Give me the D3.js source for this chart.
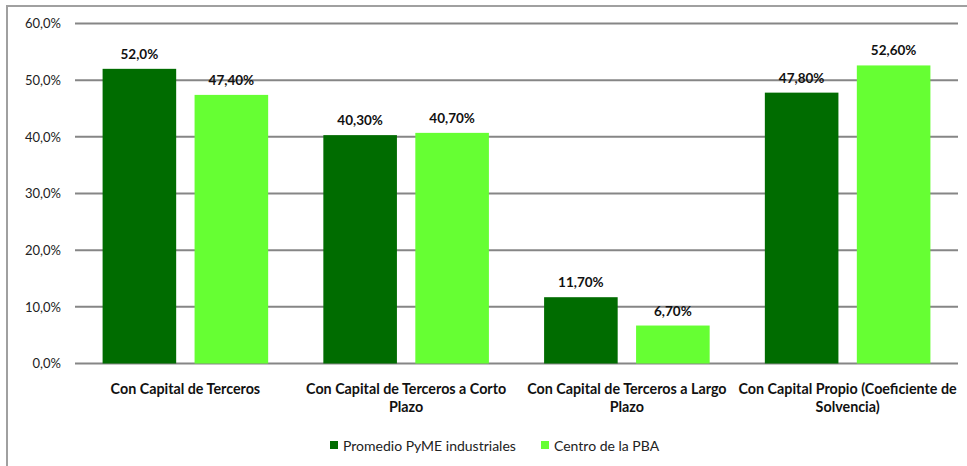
<!DOCTYPE html>
<html>
<head>
<meta charset="utf-8">
<script src="https://cdnjs.cloudflare.com/ajax/libs/d3/7.8.5/d3.min.js"></script>
<style>
  body { margin: 0; background: #fff; }
  svg { display: block; font-family: Lato, "Open Sans", sans-serif; }
</style>
</head>
<body>
<div id="chart"></div>
<script>
const categories = [
  ["Con Capital de Terceros"],
  ["Con Capital de Terceros a Corto", "Plazo"],
  ["Con Capital de Terceros a Largo", "Plazo"],
  ["Con Capital Propio (Coeficiente de", "Solvencia)"]
]
const seriesNames = ["Promedio PyME industriales", "Centro de la PBA"]
const seriesColors = ["#006c00", "#66ff33"]
const pymeValues = [52.0, 40.3, 11.7, 47.8]
const pbaValues = [47.4, 40.7, 6.7, 52.6]
const pymeLabels = ["52,0%", "40,30%", "11,70%", "47,80%"]
const pbaLabels = ["47,40%", "40,70%", "6,70%", "52,60%"]
const yTicks = [0, 10, 20, 30, 40, 50, 60]

const width = 967
const height = 466
const margin = {left: 75, right: 9, top: 23.5, bottom: 102.5}

const svg = d3.select("#chart").append("svg")
  .attr("width", width)
  .attr("height", height)

// outer chart frame (cut off at right and bottom like the source)
svg.append("rect")
  .attr("x", 7).attr("y", 6)
  .attr("width", width + 10).attr("height", height + 10)
  .attr("fill", "none")
  .attr("stroke", "#a0a0a0")
  .attr("stroke-width", 2)

const y = d3.scaleLinear()
  .domain([0, 60])
  .range([height - margin.bottom, margin.top])

const x0 = d3.scaleBand()
  .domain(d3.range(categories.length))
  .range([margin.left, width - margin.right])
  .paddingInner(0.25)
  .paddingOuter(0.125)

const x1 = d3.scaleBand()
  .domain([0, 1])
  .range([0, x0.bandwidth()])
  .paddingInner(0.2)

// gridlines
svg.append("g")
  .selectAll("line")
  .data(yTicks)
  .enter().append("line")
  .attr("x1", margin.left)
  .attr("x2", width - margin.right)
  .attr("y1", function(d) { return y(d); })
  .attr("y2", function(d) { return y(d); })
  .attr("stroke", "#868686")
  .attr("stroke-width", 2)

// y axis labels
const yAxis = svg.append("g")
  .attr("transform", "translate(" + (margin.left - 14) + ",0)")
  .call(d3.axisLeft(y).tickValues(yTicks).tickSize(0).tickPadding(0)
    .tickFormat(function(d) { return d.toFixed(1).replace(".", ",") + "%"; }))
yAxis.select(".domain").remove()
yAxis.selectAll("text")
  .attr("font-size", 13)
  .attr("font-family", "Lato, sans-serif")
  .attr("fill", "#222")

const series = [
  {values: pymeValues, labels: pymeLabels},
  {values: pbaValues, labels: pbaLabels}
]

series.forEach(function(s, si) {
  const g = svg.append("g")
  g.selectAll("rect")
    .data(s.values)
    .enter().append("rect")
    .attr("x", function(d, i) { return x0(i) + x1(si); })
    .attr("y", function(d) { return y(d); })
    .attr("width", x1.bandwidth())
    .attr("height", function(d) { return y(0) - y(d); })
    .attr("fill", seriesColors[si])

  g.selectAll("text")
    .data(s.values)
    .enter().append("text")
    .attr("x", function(d, i) { return x0(i) + x1(si) + x1.bandwidth() / 2; })
    .attr("y", function(d) { return y(d) - 10; })
    .attr("text-anchor", "middle")
    .attr("font-size", 13.5)
    .attr("font-weight", "bold")
    .attr("fill", "#111")
    .text(function(d, i) { return s.labels[i]; })
})

// category labels
const cat = svg.append("g")
  .selectAll("text")
  .data(categories)
  .enter().append("text")
  .attr("text-anchor", "middle")
  .attr("font-size", 14.3)
  .attr("font-weight", "bold")
  .attr("fill", "#111")
  .attr("transform", function(d, i) { return "translate(" + (x0(i) + x0.bandwidth() / 2) + "," + 394 + ")"; })

cat.selectAll("tspan")
  .data(function(d) { return d; })
  .enter().append("tspan")
  .attr("x", 0)
  .attr("dy", function(d, i) { return i === 0 ? 0 : 18; })
  .text(function(d) { return d; })

// legend
const legendX = [330, 541]
const legend = svg.append("g")
  .selectAll("g")
  .data(seriesNames)
  .enter().append("g")
  .attr("transform", function(d, i) { return "translate(" + legendX[i] + ",446)"; })

legend.append("rect")
  .attr("x", 0).attr("y", -5)
  .attr("width", 8).attr("height", 8)
  .attr("fill", function(d, i) { return seriesColors[i]; })

legend.append("text")
  .attr("x", 13)
  .attr("y", 4.5)
  .attr("font-size", 14)
  .attr("fill", "#222")
  .text(function(d) { return d; })
</script>
</body>
</html>
